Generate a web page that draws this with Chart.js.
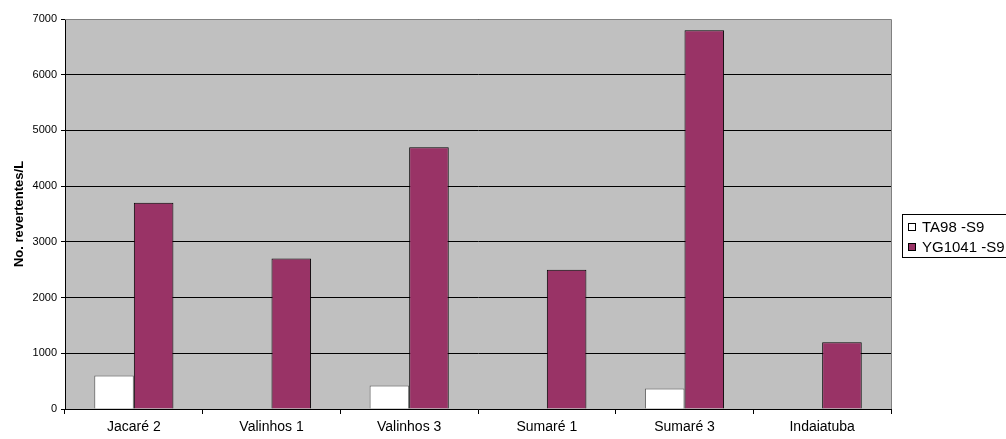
<!DOCTYPE html>
<html>
<head>
<meta charset="utf-8">
<script src="https://cdn.jsdelivr.net/npm/chart.js"></script>
<style>
  body { margin: 0; background: #fff; }
  #wrap { width: 1006px; height: 439px; }
</style>
</head>
<body>
<div id="wrap"><canvas id="myChart" width="1006" height="439"></canvas></div>
<script>
var sites = ["Jacaré 2", "Valinhos 1", "Valinhos 3", "Sumaré 1", "Sumaré 3", "Indaiatuba"];
var ta98 = [600, 0, 420, 0, 370, 0];
var yg1041 = [3700, 2700, 4700, 2500, 6800, 1200];
var seriesNames = ["TA98 -S9", "YG1041 -S9"];
var yTicks = [0, 1000, 2000, 3000, 4000, 5000, 6000, 7000];

var FONT = '"Liberation Sans", Arial, sans-serif';

// grey plot area + legend box like the old Excel chart
var excelLook = {
  id: 'excelLook',
  beforeDraw: function (chart) {
    var c = chart.ctx, a = chart.chartArea;
    c.save();
    c.fillStyle = '#c0c0c0';
    c.fillRect(a.left, a.top, a.right - a.left, a.bottom - a.top);
    c.restore();
  },
  afterDraw: function (chart) {
    var c = chart.ctx, a = chart.chartArea;
    c.save();
    c.strokeStyle = '#808080';
    c.lineWidth = 1;
    c.beginPath();
    c.moveTo(a.left, a.top + 0.5);
    c.lineTo(a.right + 0.5, a.top + 0.5);
    c.lineTo(a.right + 0.5, a.bottom);
    c.stroke();

    // legend
    var lx = 902, ly = 214;
    c.strokeStyle = '#000';
    c.fillStyle = '#fff';
    c.fillRect(lx + 0.5, ly + 0.5, 130, 43);
    c.strokeRect(lx + 0.5, ly + 0.5, 130, 43);
    var ds = chart.data.datasets;
    c.font = '15px ' + FONT;
    c.textBaseline = 'middle';
    for (var i = 0; i < ds.length; i++) {
      var yy = ly + 13 + i * 20;
      c.fillStyle = ds[i].backgroundColor;
      c.fillRect(lx + 6.5, yy - 3.5, 7, 7);
      c.strokeStyle = '#000';
      c.strokeRect(lx + 6.5, yy - 3.5, 7, 7);
      c.fillStyle = '#000';
      c.fillText(ds[i].label, lx + 20, yy + 1);
    }
    c.restore();
  }
};

var ctx = document.getElementById('myChart').getContext('2d');
var myChart = new Chart(ctx, {
  type: 'bar',
  data: {
    labels: sites,
    datasets: [{
      label: seriesNames[0],
      data: ta98,
      backgroundColor: '#ffffff',
      borderColor: '#606060',
      borderWidth: 1
    }, {
      label: seriesNames[1],
      data: yg1041,
      backgroundColor: '#993366',
      borderColor: '#000000',
      borderWidth: 1
    }]
  },
  options: {
    responsive: false,
    animation: false,
    layout: { padding: { top: 19, right: 115, left: 0, bottom: 0 } },
    plugins: {
      legend: { display: false },
      tooltip: { enabled: false }
    },
    datasets: {
      bar: { categoryPercentage: 0.575, barPercentage: 1.0 }
    },
    scales: {
      x: {
        offset: true,
        grid: {
          offset: true,
          drawOnChartArea: false,
          drawTicks: true,
          tickLength: 5,
          color: '#000'
        },
        border: { color: '#000', width: 1 },
        ticks: {
          color: '#000',
          padding: 5,
          maxRotation: 0,
          font: { family: FONT, size: 14 }
        },
        afterFit: function (s) { s.height = 30; }
      },
      y: {
        min: 0,
        max: 7000,
        afterBuildTicks: function (s) {
          s.ticks = yTicks.map(function (v) { return { value: v }; });
        },
        grid: {
          color: '#000',
          drawTicks: true,
          tickLength: 4,
          lineWidth: 1
        },
        border: { color: '#000', width: 1 },
        ticks: {
          color: '#000',
          padding: 4,
          font: { family: FONT, size: 11 },
          callback: function (v) { return String(v); }
        },
        title: {
          display: true,
          text: 'No. revertentes/L',
          color: '#000',
          padding: { top: 12, bottom: 0 },
          font: { family: FONT, size: 13, weight: 'bold' }
        },
        afterFit: function (s) { s.width = 65; }
      }
    }
  },
  plugins: [excelLook]
});
</script>
</body>
</html>
